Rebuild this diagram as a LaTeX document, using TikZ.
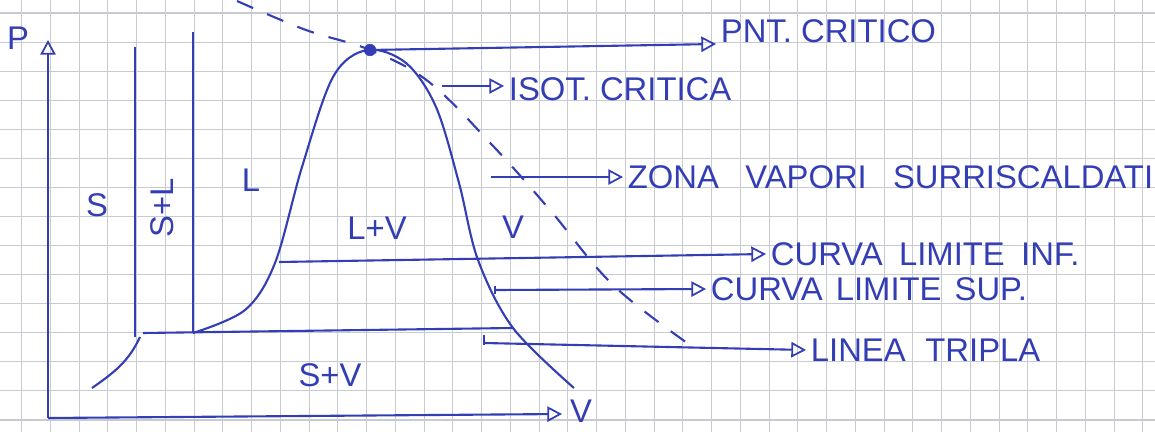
\documentclass[tikz,border=0pt]{standalone}
\usepackage{fontspec}
\setsansfont{Liberation Sans}
\usetikzlibrary{arrows.meta}
\definecolor{ink}{RGB}{52,62,180}
\definecolor{paperGrid}{RGB}{200,202,210}

\begin{document}
\begin{tikzpicture}[
  x=0.03cm, y=-0.03cm,
  font=\sffamily\fontsize{28}{32}\selectfont,
  gridline/.style={draw=paperGrid, line width=0.9pt},
  pen/.style={draw=ink, line width=1.8pt},
  tip/.style={pen, -{Triangle[open, length=4.4mm, width=4.6mm, line width=1.5pt]}},
  isot/.style={pen, dash pattern=on 15pt off 13pt},
  note/.style={text=ink, anchor=west, inner sep=4pt},
  zone/.style={text=ink, inner sep=0pt}
]
\useasboundingbox (0,0) rectangle (1155,432);

% squared paper
\foreach \gx in {0,...,39} \draw[gridline] ({21.7+28.75*\gx},0) -- ({21.7+28.75*\gx},432);
\foreach \gy in {0,...,14} \draw[gridline] (0,{13+29.07*\gy}) -- (1155,{13+29.07*\gy});

% axes
\coordinate (origin) at (48,418);
\node[zone] (plabel) at (18,38) {P};
\node[zone] (vlabel) at (581,411) {V};
\draw[tip] (origin) -- (48,40);
\draw[tip] (origin) -- (562,414);

% solid / solid+liquid boundaries
\draw[pen] (135,47) -- (135,337);
\draw[pen] (193,32) -- (193,333);
\draw[pen] (92,388) to[out=35,in=-115] (140,337);

% triple line
\coordinate (tripleL) at (143,333);
\coordinate (tripleR) at (513,328);
\draw[pen] (tripleL) -- (tripleR);

% saturation dome
\draw[pen] plot[smooth, tension=0.55] coordinates {(193,333) (245,310) (275,263) (302,167) (333,77) (367,50) (406,63) (436,107) (459,183) (478,260) (513,328) (574,388)};

% critical isotherm
\draw[isot] plot[smooth, tension=0.6] coordinates {(237,1) (306,30) (370,50) (429,82) (494,147) (550,210) (613,285) (690,345)};

% critical point
\node[circle, fill=ink, draw=ink, inner sep=0pt, minimum size=10pt] (crit) at (370,50) {};

% region labels
\node[zone] (solid) at (97,205) {S};
\node[zone, rotate=90] (solidliq) at (162,208) {S+L};
\node[zone] (liq) at (251,180) {L};
\node[zone] (liqvap) at (377,228) {L+V};
\node[zone] (vap) at (513,227) {V};
\node[zone] (solvap) at (330,375) {S+V};

% notes
\node[note] (ntcrit) at (716,31) {PNT. CRITICO};
\node[note] (ntisot) at (504,89) {ISOT. CRITICA};
\node[note] (ntzona) at (623,177) {ZONA\hspace{0.8em}VAPORI\hspace{0.8em}SURRISCALDATI};
\node[note] (ntinf) at (766,254) {CURVA\hspace{0.5em}LIMITE\hspace{0.5em}INF.};
\node[note] (ntsup) at (706,289) {CURVA\hspace{0.4em}LIMITE\hspace{0.4em}SUP.};
\node[note] (nttri) at (806,350) {LINEA\hspace{0.6em}TRIPLA};

\coordinate (aisot) at (442,86);
\coordinate (azona) at (491,177);
\coordinate (ainf) at (279,262);
\coordinate (asup) at (495,290);
\coordinate (atri) at (484,343);

\draw[tip] (crit) -- (ntcrit.west |- 0,44);
\draw[tip] (aisot) -- (ntisot.west |- aisot);
\draw[tip] (azona) -- (ntzona.west);
\draw[tip] (ainf) -- (ntinf.west);
\draw[tip] (asup) -- (ntsup.west);
\draw[tip] (atri) -- (nttri.west);
\draw[pen] (asup) ++(0,-4) -- ++(0,8);
\draw[pen] (atri) ++(0,-8) -- ++(0,10);

\end{tikzpicture}
\end{document}
